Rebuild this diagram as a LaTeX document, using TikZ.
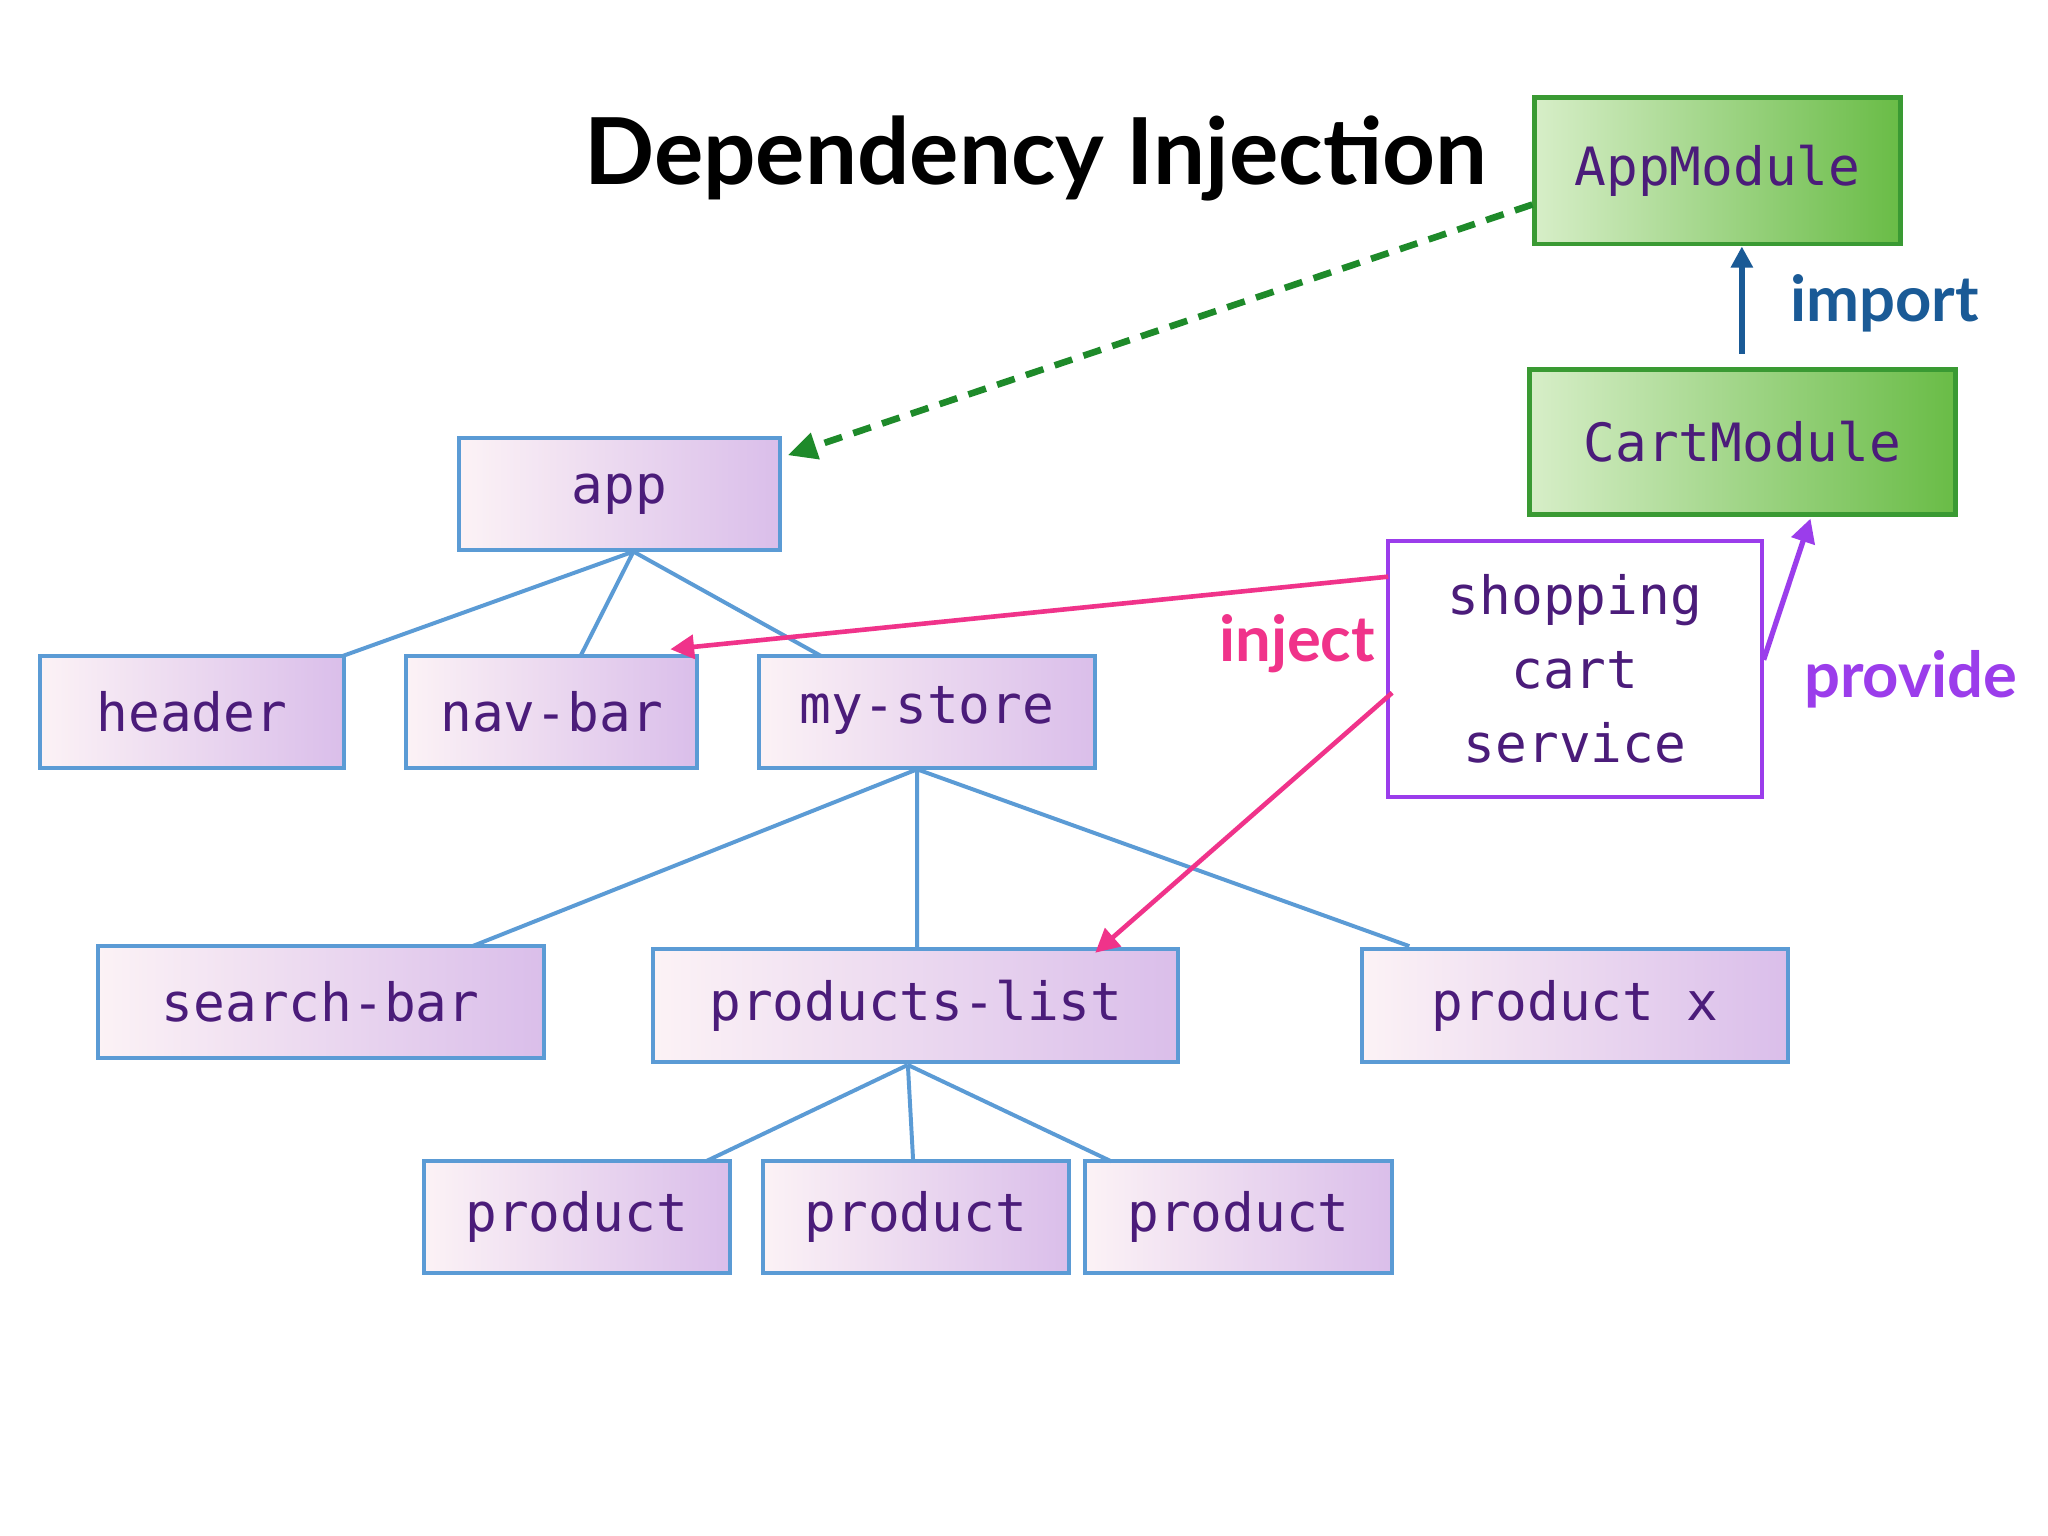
\documentclass[tikz,border=0pt]{standalone}
\usepackage{fontspec}
\setmainfont{DejaVu Sans Mono}
\newfontfamily\titlefont{Lato}
\newfontfamily\handfont{Lato}
\usetikzlibrary{arrows.meta}
\definecolor{bord}{HTML}{5B9BD5}
\definecolor{txt}{HTML}{4B1C7A}
\definecolor{gbord}{HTML}{3A9A33}
\definecolor{pink}{HTML}{F0338A}
\definecolor{purp}{HTML}{9B3DEB}
\definecolor{dblue}{HTML}{1A5A96}
\definecolor{dgreen}{HTML}{1E8A2A}
\begin{document}
\begin{tikzpicture}[x=1pt,y=-1pt,
 box/.style={draw=bord,line width=3pt,left color=white!95!purple,right color={rgb,255:red,218;green,190;blue,234},text=txt,font=\fontsize{40}{44}\selectfont,inner sep=0pt},
 gbox/.style={draw=gbord,line width=3.5pt,left color={rgb,255:red,215;green,238;blue,200},right color={rgb,255:red,105;green,188;blue,70},text=txt,font=\fontsize{40}{44}\selectfont,inner sep=0pt},
 tree/.style={draw=bord,line width=3pt},
 lab/.style={font=\handfont\bfseries\fontsize{48}{52}\selectfont}]
\useasboundingbox (0,0) rectangle (1552,1164);
\fill[white] (0,0) rectangle (1552,1164);
\newcommand\bx[6]{\node[#6,minimum width=#3-#2,minimum height=#5-#4] (#1) at ({(#2+#3)/2},{(#4+#5)/2}) {\strut};}
\bx{am}{1163}{1440}{74}{185}{gbox}
\bx{cm}{1159}{1482}{280}{390}{gbox}
\bx{app}{348}{591}{332}{417}{box}
\bx{hd}{30}{261}{497}{582}{box}
\bx{nb}{308}{528}{497}{582}{box}
\bx{ms}{575}{830}{497}{582}{box}
\bx{sb}{74}{412}{717}{802}{box}
\bx{pl}{495}{893}{719}{805}{box}
\bx{px}{1032}{1355}{719}{805}{box}
\bx{p1}{321}{553}{880}{965}{box}
\bx{p2}{578}{810}{880}{965}{box}
\bx{p3}{822}{1055}{880}{965}{box}
\node[draw=purp,line width=3pt,fill=white,minimum width=283,minimum height=194,inner sep=0pt] (scs) at (1193.5,507) {};
\begin{scope}[text=txt,font=\fontsize{40}{44}\selectfont]
\node at (am) {AppModule};
\node at (cm) {CartModule};
\node at (app) {app};
\node at (hd) {header};
\node at (nb) {nav-bar};
\node at (ms.center) {\strut my-store};
\node at (sb) {search-bar};
\node at (pl) {products-list};
\node at (px) {product x};
\node at (p1) {product};
\node at (p2) {product};
\node at (p3) {product};
\node[align=center,font=\fontsize{40}{56}\selectfont] at (scs) {shopping\\cart\\service};
\end{scope}
\node[font=\titlefont\bfseries\fontsize{70}{76}\selectfont] (title) at (785,120) {Dependency Injection};
\coordinate (a0) at (480,418);
\draw[tree] (a0) -- (260,497) (a0) -- (440,497) (a0) -- (622,497);
\coordinate (m0) at (695,583);
\draw[tree] (m0) -- (358,717) (m0) -- (695,719) (m0) -- (1068,717);
\coordinate (l0) at (688,807);
\draw[tree] (l0) -- (535,880) (l0) -- (692,880) (l0) -- (842,880);
\draw[dgreen,line width=5pt,dash pattern=on 14pt off 9pt,-{Triangle[length=22pt,width=20pt]}] (am.south west|-0,155) -- (597,345);
\draw[dblue,line width=4pt,-{Triangle[length=16pt,width=16pt]}] (1320,268) -- (am.south -| 1320,0);
\node[lab,text=dblue] (imp) at (1428,230) {import};
\draw[purp,line width=4pt,-{Triangle[length=18pt,width=18pt]}] (scs.east|-0,500) -- (1372,393);
\node[lab,text=purp] (prov) at (1448,515) {provide};
\draw[pink,line width=3.5pt,-{Triangle[length=18pt,width=18pt]}] (1052,437) -- (508,492);
\draw[pink,line width=3.5pt,-{Triangle[length=18pt,width=18pt]}] (1055,525) -- (830,722);
\node[lab,text=pink] (inj) at (983,488) {inject};
\end{tikzpicture}
\end{document}
